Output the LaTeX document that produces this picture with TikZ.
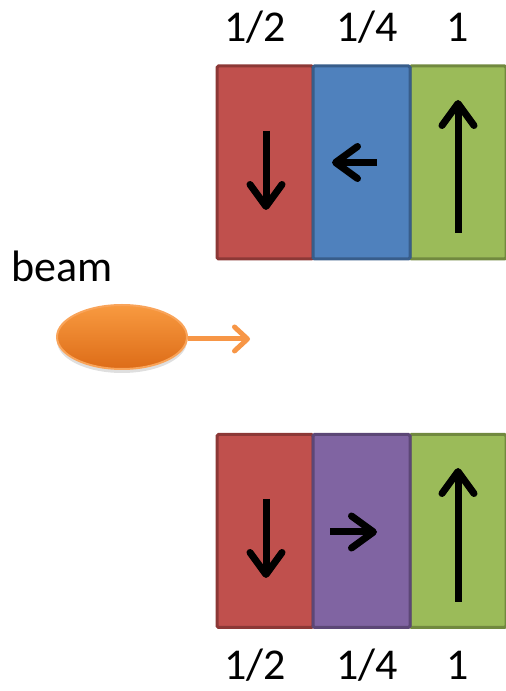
\documentclass[tikz,border=0pt]{standalone}
\usepackage{fontspec}
\setmainfont{Carlito}
\usetikzlibrary{arrows.meta,calc,shapes.geometric,shadows}
\definecolor{redfill}{HTML}{C0504D}
\definecolor{redline}{HTML}{8C3836}
\definecolor{bluefill}{HTML}{4F81BD}
\definecolor{blueline}{HTML}{385D8A}
\definecolor{greenfill}{HTML}{9BBB59}
\definecolor{greenline}{HTML}{71893F}
\definecolor{purplefill}{HTML}{8064A2}
\definecolor{purpleline}{HTML}{5C4776}
\definecolor{orangetop}{HTML}{F89A40}
\definecolor{orangebot}{HTML}{DD6C18}
\definecolor{orangeline}{HTML}{F9A45A}
\definecolor{orangearrow}{HTML}{F79646}
\tikzset{
  panel/.style={rectangle, draw, line width=3pt, minimum height=193pt, inner sep=0pt, outer sep=0pt, rounded corners=1.5pt},
  spin/.style={line width=7pt, -{Straight Barb[round, length=22pt, width=32pt]}},
  lbl/.style={font=\fontsize{44}{50}\selectfont, inner sep=0pt, anchor=base},
}
\begin{document}
\begin{tikzpicture}[x=1pt,y=1pt]
\useasboundingbox (0,0) rectangle (506,691);
% top row
\node[panel, fill=redfill, draw=redline, minimum width=96pt] (r1) at (265,528.5) {};
\node[panel, fill=greenfill, draw=greenline, minimum width=96pt] (g1) at (458,528.5) {};
\node[panel, fill=bluefill, draw=blueline, minimum width=97pt] (b1) at (361.5,528.5) {};
% bottom row
\node[panel, fill=redfill, draw=redline, minimum width=96pt] (r2) at (265,160) {};
\node[panel, fill=greenfill, draw=greenline, minimum width=96pt] (g2) at (458,160) {};
\node[panel, fill=purplefill, draw=purpleline, minimum width=97pt] (p2) at (361.5,160) {};
% spin arrows top
\draw[spin] ($(r1.center)+(1,31.5)$) -- ($(r1.center)+(1,-47.5)$);
\draw[spin] ($(b1.center)+(15.5,0)$) -- ($(b1.center)+(-29.5,0)$);
\draw[spin] ($(g1.center)+(0,-70.5)$) -- ($(g1.center)+(0,62.5)$);
% spin arrows bottom
\draw[spin] ($(r2.center)+(1,32)$) -- ($(r2.center)+(1,-47)$);
\draw[spin] ($(p2.center)+(-31.5,-1)$) -- ($(p2.center)+(15.5,-1)$);
\draw[spin] ($(g2.center)+(0,-71)$) -- ($(g2.center)+(0,63)$);
% labels
\node[lbl] (t1) at (255,649) {1/2};
\node[lbl] (t2) at (367,649) {1/4};
\node[lbl] (t3) at (458,649) {1};
\node[lbl] (u1) at (255,11) {1/2};
\node[lbl] (u2) at (367,11) {1/4};
\node[lbl] (u3) at (458,11) {1};
\node[lbl] (beamlbl) at (62,409) {beam};
% beam
\node[ellipse, minimum width=130pt, minimum height=64pt, inner sep=0pt,
      top color=orangetop, bottom color=orangebot, draw=orangeline, line width=2pt,
      drop shadow={opacity=0.25, shadow xshift=0pt, shadow yshift=-4pt}] (beam) at (122,354) {};
\coordinate (beamend) at (250,352);
\draw[orangearrow, line width=5pt, -{Straight Barb[round, length=13pt, width=24pt]}] (beam.east |- beamend) -- (beamend);
\end{tikzpicture}
\end{document}
